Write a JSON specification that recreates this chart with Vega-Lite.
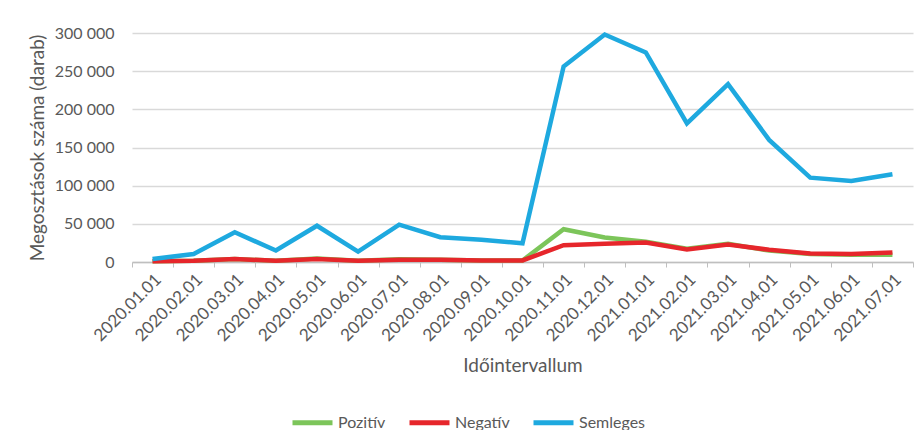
{
  "$schema": "https://vega.github.io/schema/vega-lite/v6.json",
  "autosize": "none",
  "width": 781,
  "height": 229,
  "padding": {"left": 132, "top": 33, "right": 1, "bottom": 168},
  "config": {
    "font": "Lato",
    "view": {"stroke": null},
    "locale": {"number": {"decimal": ",", "thousands": " ", "grouping": [3], "currency": ["", ""]}}
  },
  "data": {
    "values": [
      {"date": "2020.01.01", "series": "Pozitív", "value": 1000},
      {"date": "2020.02.01", "series": "Pozitív", "value": 1500},
      {"date": "2020.03.01", "series": "Pozitív", "value": 4000},
      {"date": "2020.04.01", "series": "Pozitív", "value": 1500},
      {"date": "2020.05.01", "series": "Pozitív", "value": 4500},
      {"date": "2020.06.01", "series": "Pozitív", "value": 1500},
      {"date": "2020.07.01", "series": "Pozitív", "value": 3500},
      {"date": "2020.08.01", "series": "Pozitív", "value": 3000},
      {"date": "2020.09.01", "series": "Pozitív", "value": 2000},
      {"date": "2020.10.01", "series": "Pozitív", "value": 2000},
      {"date": "2020.11.01", "series": "Pozitív", "value": 43000},
      {"date": "2020.12.01", "series": "Pozitív", "value": 32000},
      {"date": "2021.01.01", "series": "Pozitív", "value": 26500},
      {"date": "2021.02.01", "series": "Pozitív", "value": 17500},
      {"date": "2021.03.01", "series": "Pozitív", "value": 24000},
      {"date": "2021.04.01", "series": "Pozitív", "value": 15000},
      {"date": "2021.05.01", "series": "Pozitív", "value": 10500},
      {"date": "2021.06.01", "series": "Pozitív", "value": 9500},
      {"date": "2021.07.01", "series": "Pozitív", "value": 9500},
      {"date": "2020.01.01", "series": "Negatív", "value": 1000},
      {"date": "2020.02.01", "series": "Negatív", "value": 1500},
      {"date": "2020.03.01", "series": "Negatív", "value": 4000},
      {"date": "2020.04.01", "series": "Negatív", "value": 1500},
      {"date": "2020.05.01", "series": "Negatív", "value": 4000},
      {"date": "2020.06.01", "series": "Negatív", "value": 1500},
      {"date": "2020.07.01", "series": "Negatív", "value": 3000},
      {"date": "2020.08.01", "series": "Negatív", "value": 3000},
      {"date": "2020.09.01", "series": "Negatív", "value": 2000},
      {"date": "2020.10.01", "series": "Negatív", "value": 2000},
      {"date": "2020.11.01", "series": "Negatív", "value": 22000},
      {"date": "2020.12.01", "series": "Negatív", "value": 24000},
      {"date": "2021.01.01", "series": "Negatív", "value": 25500},
      {"date": "2021.02.01", "series": "Negatív", "value": 16500},
      {"date": "2021.03.01", "series": "Negatív", "value": 23000},
      {"date": "2021.04.01", "series": "Negatív", "value": 16000},
      {"date": "2021.05.01", "series": "Negatív", "value": 11000},
      {"date": "2021.06.01", "series": "Negatív", "value": 10500},
      {"date": "2021.07.01", "series": "Negatív", "value": 12500},
      {"date": "2020.01.01", "series": "Semleges", "value": 4000},
      {"date": "2020.02.01", "series": "Semleges", "value": 10500},
      {"date": "2020.03.01", "series": "Semleges", "value": 39000},
      {"date": "2020.04.01", "series": "Semleges", "value": 15000},
      {"date": "2020.05.01", "series": "Semleges", "value": 47500},
      {"date": "2020.06.01", "series": "Semleges", "value": 13500},
      {"date": "2020.07.01", "series": "Semleges", "value": 49000},
      {"date": "2020.08.01", "series": "Semleges", "value": 32500},
      {"date": "2020.09.01", "series": "Semleges", "value": 29000},
      {"date": "2020.10.01", "series": "Semleges", "value": 24500},
      {"date": "2020.11.01", "series": "Semleges", "value": 256000},
      {"date": "2020.12.01", "series": "Semleges", "value": 298000},
      {"date": "2021.01.01", "series": "Semleges", "value": 274500},
      {"date": "2021.02.01", "series": "Semleges", "value": 181500},
      {"date": "2021.03.01", "series": "Semleges", "value": 233000},
      {"date": "2021.04.01", "series": "Semleges", "value": 160000},
      {"date": "2021.05.01", "series": "Semleges", "value": 110500},
      {"date": "2021.06.01", "series": "Semleges", "value": 106000},
      {"date": "2021.07.01", "series": "Semleges", "value": 115000}
    ]
  },
  "mark": {"type": "line", "strokeWidth": 4.5, "strokeJoin": "miter", "strokeCap": "butt"},
  "encoding": {
    "x": {
      "field": "date",
      "type": "ordinal",
      "sort": null,
      "bandPosition": 0.5,
      "scale": {"type": "band", "paddingInner": 0, "paddingOuter": 0},
      "axis": {
        "title": "Időintervallum",
        "titleFontSize": 19,
        "titleFontWeight": "normal",
        "titleColor": "#595959",
        "titlePadding": 13,
        "labelAngle": -45,
        "labelFontSize": 17,
        "labelColor": "#595959",
        "labelPadding": 4,
        "tickBand": "extent",
        "tickColor": "#bfbfbf",
        "tickSize": 5,
        "domainColor": "#bfbfbf",
        "domainWidth": 1.5,
        "grid": false
      }
    },
    "y": {
      "field": "value",
      "type": "quantitative",
      "format": ",d",
      "scale": {"domain": [0, 300000], "nice": false},
      "axis": {
        "title": "Megosztások száma (darab)",
        "titleFontSize": 19,
        "titleFontWeight": "normal",
        "titleColor": "#595959",
        "titlePadding": 7,
        "values": [0, 50000, 100000, 150000, 200000, 250000, 300000],
        "labelFontSize": 16,
        "labelColor": "#595959",
        "labelPadding": 18,
        "ticks": false,
        "domain": false,
        "grid": true,
        "gridColor": "#d9d9d9",
        "gridWidth": 1.5
      }
    },
    "color": {
      "field": "series",
      "type": "nominal",
      "sort": null,
      "scale": {"domain": ["Pozitív", "Negatív", "Semleges"], "range": ["#7cc55a", "#e6262b", "#1ea9df"]},
      "legend": {
        "title": null,
        "orient": "none",
        "direction": "horizontal",
        "legendX": 158,
        "legendY": 367,
        "symbolType": "stroke",
        "symbolSize": 1600,
        "symbolStrokeWidth": 5,
        "labelFontSize": 16,
        "labelColor": "#595959",
        "labelOffset": 3,
        "columnPadding": 13
      }
    }
  }
}
